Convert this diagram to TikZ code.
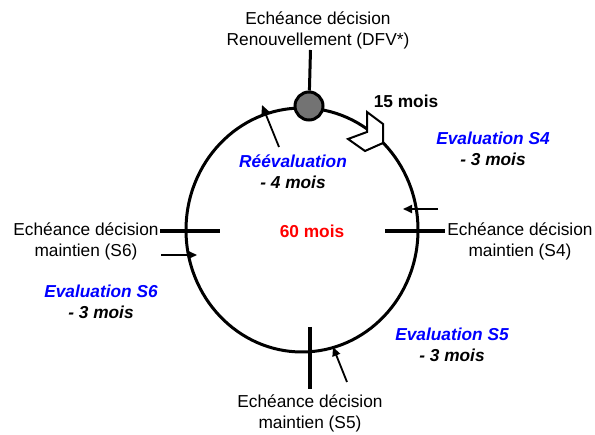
\documentclass[tikz,border=0pt]{standalone}
\usepackage{fontspec}
\setmainfont{Liberation Sans}
\usetikzlibrary{arrows.meta}
\usetikzlibrary{calc}

\tikzset{
  txt/.style={align=center, inner sep=0pt, font=\fontsize{17.3}{21}\selectfont},
  evaltxt/.style={txt, font=\fontsize{17.3}{21}\selectfont\bfseries\itshape},
  echeance/.style={line width=3.5pt},
  pointer/.style={line width=1.8pt, -{Triangle[length=9pt, width=8pt]}},
}

\begin{document}
\begin{tikzpicture}[x=1pt, y=-1pt]
  \useasboundingbox (0,0) rectangle (595,435);

  % cycle
  \draw[line width=3pt] (302,230) ellipse [x radius=116, y radius=122];

  % decision points
  \coordinate (t1) at (310.5,50);
  \node[circle, draw, line width=3pt, fill=black!55, inner sep=0pt, minimum size=28pt] (dfv) at (309,106) {};
  \draw[line width=3pt] (t1) -- (dfv);

  \coordinate (l1) at (160,231);
  \coordinate (l2) at (220,231);
  \draw[echeance] (l1) -- (l2);

  \coordinate (r1) at (385,231);
  \coordinate (r2) at (445,231);
  \draw[echeance] (r1) -- (r2);

  \coordinate (b1) at (310,327);
  \coordinate (b2) at (310,389);
  \draw[echeance] (b1) -- (b2);

  % evaluation pointers
  \coordinate (p1) at (279,147);
  \coordinate (q1) at (262,105);
  \draw[pointer] (p1) -- (q1);

  \coordinate (p2) at (438,209);
  \coordinate (q2) at (403,209);
  \draw[pointer] (p2) -- (q2);

  \coordinate (p3) at (347,382);
  \coordinate (q3) at (333,347);
  \draw[pointer] (p3) -- (q3);

  \coordinate (p4) at (161,255);
  \coordinate (q4) at (197,255);
  \draw[pointer] (p4) -- (q4);

  % 15 months marker
  \draw[line width=2pt, line join=miter, fill=white]
    (367,112) -- (383,124) -- (383,143) -- (365,151) -- (348,139) -- (367,132) -- cycle;

  % labels
  \node[txt] (topnote) at (318,30) {Echéance décision\\Renouvellement (DFV*)};
  \node[txt, font=\fontsize{17.3}{21}\selectfont\bfseries] (quinze) at (406,101) {15 mois};
  \node[evaltxt] (evals4) at (493,149) {\textcolor{blue}{Evaluation S4}\\- 3 mois};
  \node[evaltxt] (reeval) at (293,172) {\textcolor{blue}{Réévaluation}\\- 4 mois};
  \node[txt, font=\fontsize{17.3}{21}\selectfont\bfseries, text=red] (total) at (312,231) {60 mois};
  \node[txt] (s6note) at (86,241.5) {Echéance décision\\maintien (S6)};
  \node[txt] (s4note) at (520,241.5) {Echéance décision\\maintien (S4)};
  \node[evaltxt] (evals6) at (101,302) {\textcolor{blue}{Evaluation S6}\\- 3 mois};
  \node[evaltxt] (evals5) at (452,345) {\textcolor{blue}{Evaluation S5}\\- 3 mois};
  \node[txt] (s5note) at (310,413.5) {Echéance décision\\maintien (S5)};
\end{tikzpicture}
\end{document}
